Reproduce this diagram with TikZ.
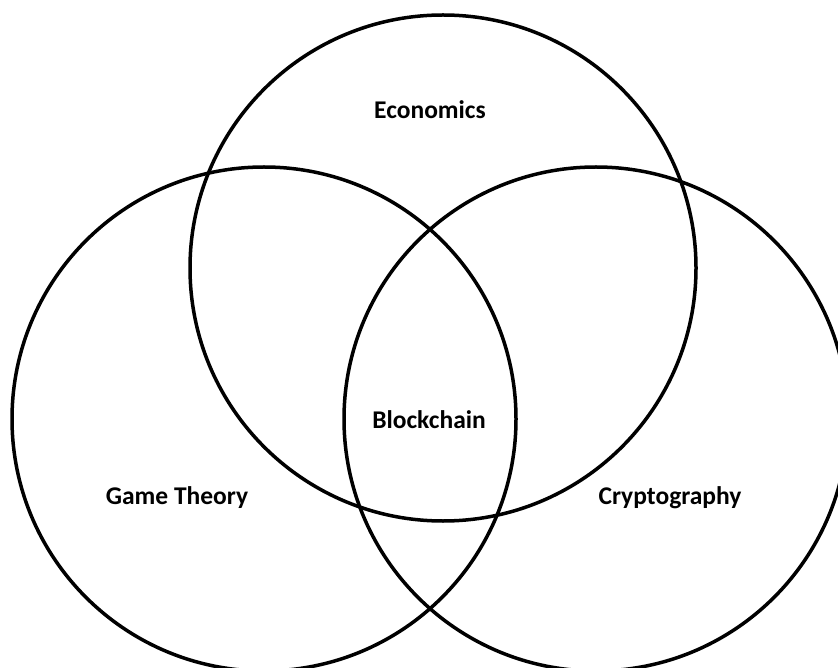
\documentclass[tikz,border=0pt]{standalone}
\usepackage{fontspec}
\setmainfont{Carlito}
\usetikzlibrary{positioning}
\tikzset{
		ring/.style={draw=black, line width=3.5pt},
		field/.style={font=\bfseries\fontsize{25.5}{28}\selectfont, inner sep=0pt}
	}

\begin{document}
\begin{tikzpicture}[x=1pt, y=-1pt]
		\useasboundingbox (0,0) rectangle (838,668);
		\clip (0,0) rectangle (838,668);
		\draw [ring] (443,268) circle [radius=253];
		\draw [ring] (264,419) circle [radius=252];
		\draw [ring] (596,419) circle [radius=252];
		\node [field] (econ) at (430,110) {Economics};
		\node [field] (chain) at (429,420) {Blockchain};
		\node [field] (game) at (177,498) {Game Theory};
		\node [field] (crypto) at (670,498) {Cryptography};
	\end{tikzpicture}
\end{document}
